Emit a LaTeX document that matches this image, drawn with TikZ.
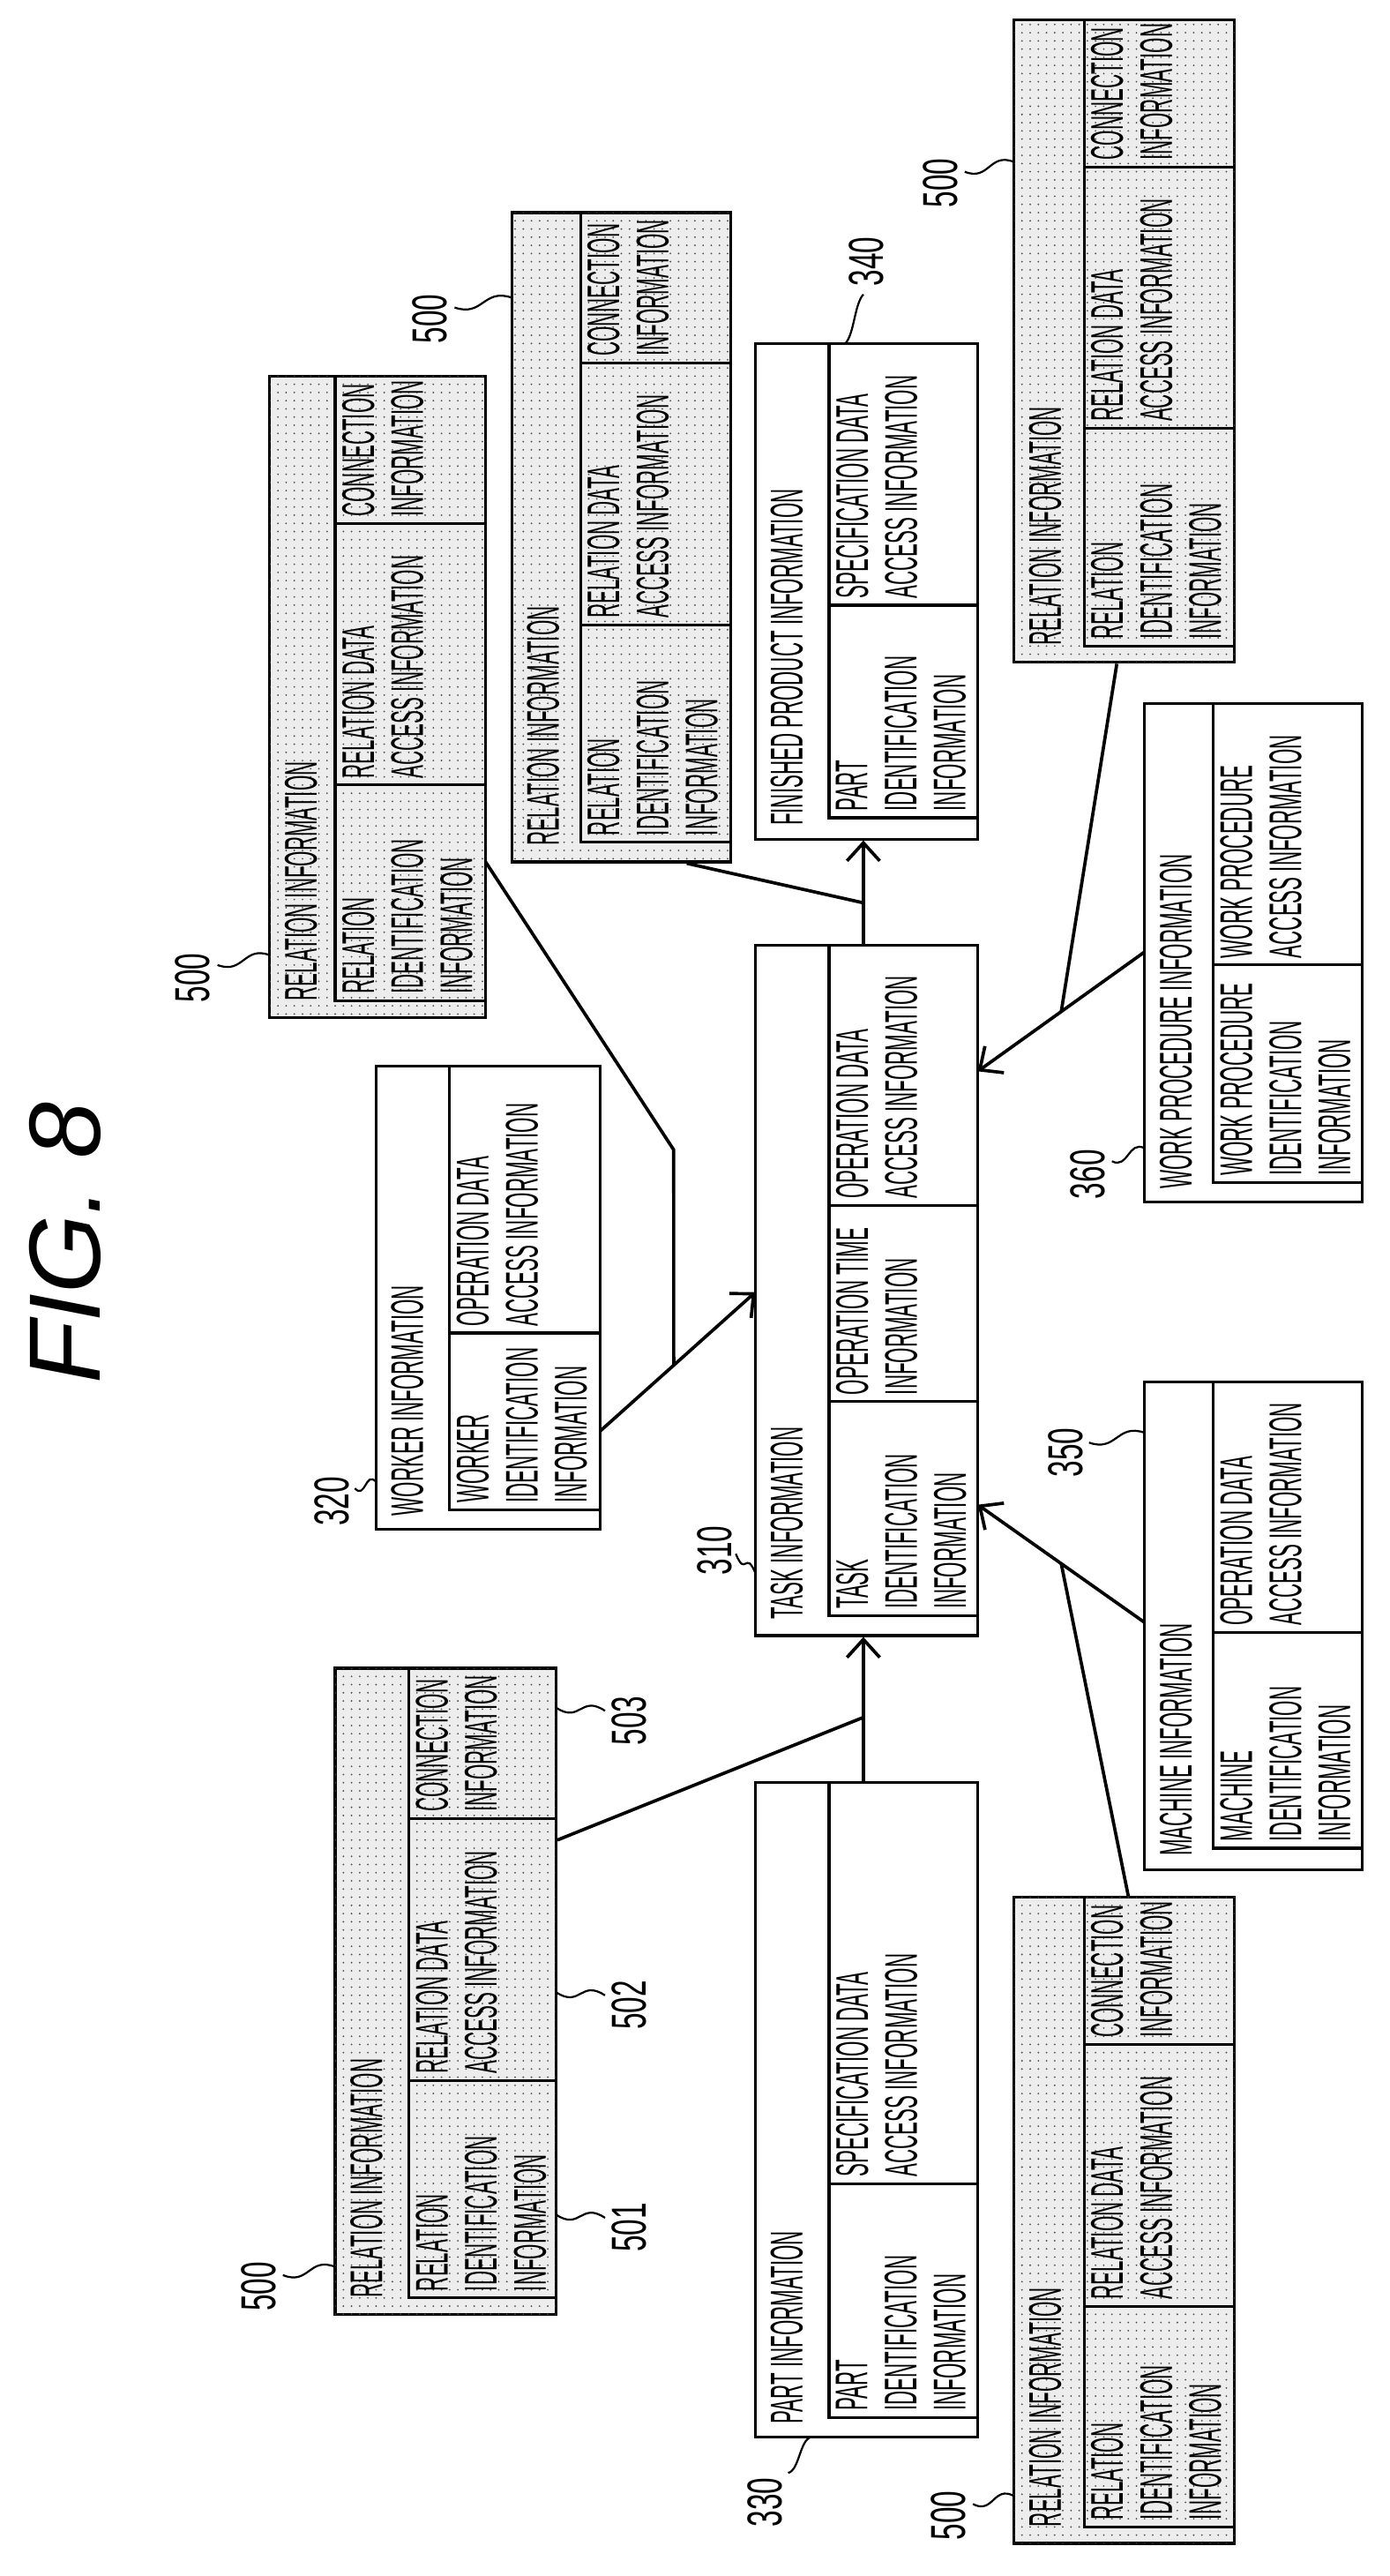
\documentclass[tikz,border=0pt]{standalone}
\usepackage{fontspec}
\usetikzlibrary{arrows.meta,calc,fit,patterns.meta}
\newfontfamily\nar[FakeStretch=0.43]{Liberation Sans}
\newfontfamily\numf[FakeStretch=0.6]{Liberation Sans}
\newcommand\relfill{black!7}
\tikzset{
  box/.style={draw,line width=1.7pt,inner sep=0pt},
  rel/.style={box,fill=\relfill,postaction={pattern={Dots[radius=0.55pt,distance=5pt]},pattern color=black!70}},
  div/.style={line width=1.7pt},
  txt/.style={rotate=90,anchor=north west,align=left,inner sep=0pt,font=\nar\fontsize{28}{30}\selectfont},
  lab/.style={rotate=90,inner sep=0pt,font=\numf\fontsize{30}{32}\selectfont},
  con/.style={line width=2pt},
  arr/.style={con,-{Straight Barb[length=11pt,width=20pt,line width=2pt]}},
  wv/.style={line width=1.2pt},
}
% name,x1,y1,x2,y2,xd,yi,style
\newcommand\ibox[8]{%
  \node[#8,fit={(#2,#3) (#4,#5)}] (#1) {};
  \draw[div] (#6,#3) -- (#6,#7) -- (#4,#7);
}
\newcommand\wave[2]{\draw[wv] (#1) .. controls ($(#1)!0.5!(#2)+(0,9)$) and ($(#1)!0.5!(#2)+(0,-9)$) .. (#2);}
% relation box: name,x1,y1,x2,y2,xd,yi,d1(id/data),d2(data/conn)
\newcommand\relbox[9]{%
  \ibox{#1}{#2}{#3}{#4}{#5}{#6}{#7}{rel}
  \draw[div] (#6,#8) -- (#4,#8);
  \draw[div] (#6,#9) -- (#4,#9);
  \node[txt] at ($(#2,#5)+(9,-10)$) {RELATION INFORMATION};
  \node[txt] at ($(#6,#7)+(4,-4)$) {RELATION\\IDENTIFICATION\\INFORMATION};
  \node[txt] at ($(#6,#8)+(4,-4)$) {RELATION DATA\\ACCESS INFORMATION};
  \node[txt] at ($(#6,#9)+(4,-4)$) {CONNECTION\\INFORMATION};
}
\begin{document}
\begin{tikzpicture}[x=1pt,y=-1pt]
\useasboundingbox[fill=white] (0,0) rectangle (850,1575);

\node[rotate=90,font=\fontspec{Liberation Sans}\itshape\fontsize{62}{64}\selectfont] (fig) at (40,760) {FIG. 8};

% Task 310
\ibox{task}{462}{578}{598}{1000}{507}{988}{box}
\draw[div] (507,737) -- (598,737);
\draw[div] (507,857) -- (598,857);
\node[txt] at (471,990) {TASK INFORMATION};
\node[txt] at (511,733) {OPERATION DATA\\ACCESS INFORMATION};
\node[txt] at (511,853) {OPERATION TIME\\INFORMATION};
\node[txt] at (511,984) {TASK\\IDENTIFICATION\\INFORMATION};

% Finished 340
\ibox{fin}{462}{210}{598}{513}{507}{500}{box}
\draw[div] (507,370) -- (598,370);
\node[txt] at (471,505) {FINISHED PRODUCT INFORMATION};
\node[txt] at (511,366) {SPECIFICATION DATA\\ACCESS INFORMATION};
\node[txt] at (511,496) {PART\\IDENTIFICATION\\INFORMATION};

% Part 330
\ibox{part}{462}{1090}{598}{1490}{507}{1478}{box}
\draw[div] (507,1335) -- (598,1335);
\node[txt] at (471,1482) {PART INFORMATION};
\node[txt] at (511,1331) {SPECIFICATION DATA\\ACCESS INFORMATION};
\node[txt] at (511,1474) {PART\\IDENTIFICATION\\INFORMATION};

% Worker 320
\ibox{worker}{230}{652}{367}{935}{275}{923}{box}
\draw[div] (275,815) -- (367,815);
\node[txt] at (239,927) {WORKER INFORMATION};
\node[txt] at (279,811) {OPERATION DATA\\ACCESS INFORMATION};
\node[txt] at (279,919) {WORKER\\IDENTIFICATION\\INFORMATION};

% Work procedure 360
\ibox{wp}{700}{430}{833}{735}{742}{723}{box}
\draw[div] (742,590) -- (833,590);
\node[txt] at (709,727) {WORK PROCEDURE INFORMATION};
\node[txt] at (746,586) {WORK PROCEDURE\\ACCESS INFORMATION};
\node[txt] at (746,719) {WORK PROCEDURE\\IDENTIFICATION\\INFORMATION};

% Machine 350
\ibox{mach}{700}{845}{833}{1143}{742}{1130}{box}
\draw[div] (742,998) -- (833,998);
\node[txt] at (709,1135) {MACHINE INFORMATION};
\node[txt] at (746,994) {OPERATION DATA\\ACCESS INFORMATION};
\node[txt] at (746,1126) {MACHINE\\IDENTIFICATION\\INFORMATION};

% Relation boxes
\relbox{r1}{165}{230}{297}{622}{205}{612}{480}{320}
\relbox{r2}{313}{130}{447}{527}{355}{515}{382}{222}
\relbox{r3}{620}{12}{755}{405}{663}{395}{262}{102}
\relbox{r4}{620}{1160}{755}{1555}{663}{1545}{1410}{1250}
\relbox{r5}{205}{1020}{340}{1415}{250}{1405}{1272}{1112}

% connectors
\coordinate (j1) at (528,1050);
\draw[arr] (part.north -| j1) -- (task.south -| j1);
\draw[con] (r5.east |- 0,1125) -- (j1);
\coordinate (j2) at (528,552);
\draw[arr] (task.north -| j2) -- (fin.south -| j2);
\draw[con] (r2.south -| 420,0) -- (j2);
\coordinate (wa) at (367,875);
\coordinate (wb) at (462,790);
\draw[arr] (wa) -- (wb);
\coordinate (j3) at ($(wa)!0.474!(wb)$);
\coordinate (k3) at (412,703);
\draw[con] (297,527) -- (k3) -- (j3);
\coordinate (pa) at (700,582);
\coordinate (pb) at (598,655);
\draw[arr] (pa) -- (pb);
\coordinate (j4) at ($(pa)!0.5!(pb)$);
\draw[con] (r3.south -| 683,0) -- (j4);
\coordinate (ma) at (700,992);
\coordinate (mb) at (598,920);
\draw[arr] (ma) -- (mb);
\coordinate (j5) at ($(ma)!0.5!(mb)$);
\draw[con] (r4.north -| 690,0) -- (j5);

% labels
\node[lab] (l500a) at (118,598) {500}; \wave{133,590}{165,584}
\node[lab] (l500b) at (263,195) {500}; \wave{278,188}{313,182}
\node[lab] (l500c) at (575,112) {500}; \wave{590,105}{620,99}
\node[lab] (l500d) at (580,1538) {500}; \wave{595,1531}{620,1526}
\node[lab] (l500e) at (158,1398) {500}; \wave{173,1391}{205,1386}
\node[lab] (l501) at (385,1362) {501}; \wave{340,1354}{370,1356}
\node[lab] (l502) at (385,1226) {502}; \wave{340,1218}{370,1220}
\node[lab] (l503) at (385,1052) {503}; \wave{340,1044}{370,1046}
\node[lab] (l310) at (437,948) {310}; \wave{450,950}{462,962}
\node[lab] (l320) at (203,918) {320}; \wave{217,910}{230,906}
\node[lab] (l330) at (468,1530) {330}; \wave{482,1512}{496,1490}
\node[lab] (l340) at (530,160) {340}; \wave{517,210}{528,180}
\node[lab] (l350) at (652,888) {350}; \wave{666,882}{700,876}
\node[lab] (l360) at (665,718) {360}; \wave{680,710}{700,702}
\end{tikzpicture}
\end{document}
